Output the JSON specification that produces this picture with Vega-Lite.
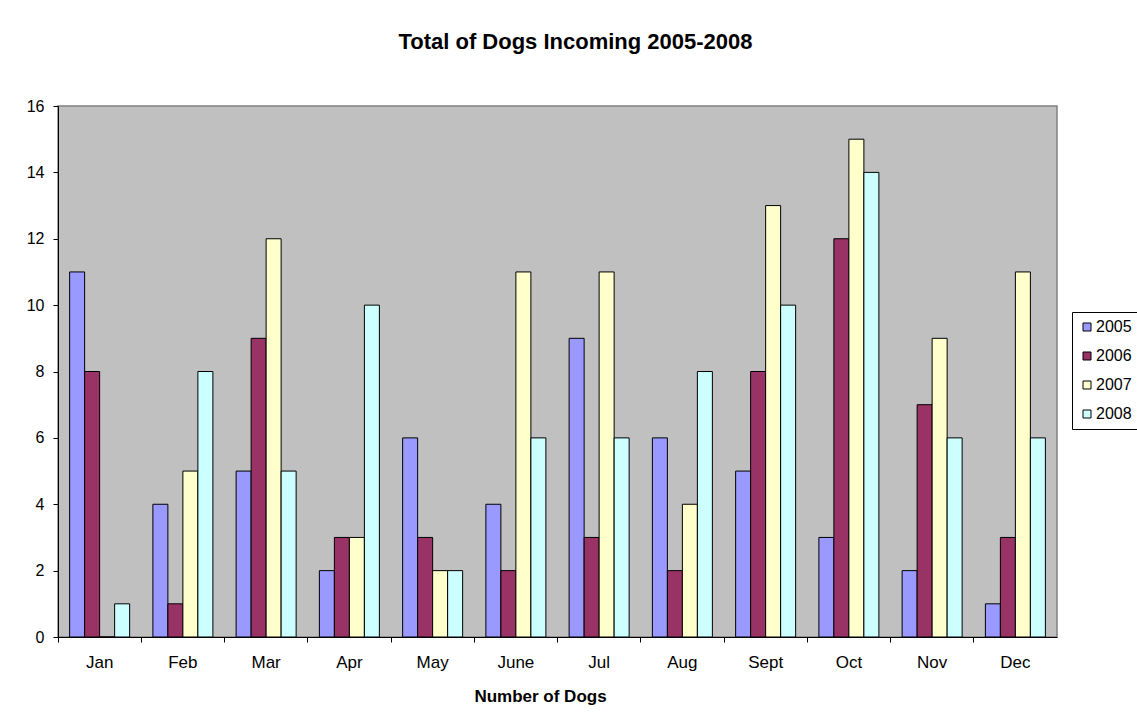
{
  "$schema": "https://vega.github.io/schema/vega-lite/v6.json",
  "autosize": {"type": "none"},
  "padding": {"left": 58, "top": 106, "right": 80, "bottom": 91},
  "width": 999,
  "height": 531,
  "background": "white",
  "title": {
    "text": "Total of Dogs Incoming 2005-2008",
    "font": "Liberation Sans",
    "fontSize": 22,
    "fontWeight": "bold",
    "color": "black",
    "anchor": "middle",
    "dx": 18,
    "offset": 44
  },
  "config": {
    "view": {"fill": "#C0C0C0", "stroke": "#808080", "strokeWidth": 1.5},
    "font": "Liberation Sans"
  },
  "data": {
    "values": [
      {"month": "Jan", "year": "2005", "dogs": 11},
      {"month": "Jan", "year": "2006", "dogs": 8},
      {"month": "Jan", "year": "2007", "dogs": 0},
      {"month": "Jan", "year": "2008", "dogs": 1},
      {"month": "Feb", "year": "2005", "dogs": 4},
      {"month": "Feb", "year": "2006", "dogs": 1},
      {"month": "Feb", "year": "2007", "dogs": 5},
      {"month": "Feb", "year": "2008", "dogs": 8},
      {"month": "Mar", "year": "2005", "dogs": 5},
      {"month": "Mar", "year": "2006", "dogs": 9},
      {"month": "Mar", "year": "2007", "dogs": 12},
      {"month": "Mar", "year": "2008", "dogs": 5},
      {"month": "Apr", "year": "2005", "dogs": 2},
      {"month": "Apr", "year": "2006", "dogs": 3},
      {"month": "Apr", "year": "2007", "dogs": 3},
      {"month": "Apr", "year": "2008", "dogs": 10},
      {"month": "May", "year": "2005", "dogs": 6},
      {"month": "May", "year": "2006", "dogs": 3},
      {"month": "May", "year": "2007", "dogs": 2},
      {"month": "May", "year": "2008", "dogs": 2},
      {"month": "June", "year": "2005", "dogs": 4},
      {"month": "June", "year": "2006", "dogs": 2},
      {"month": "June", "year": "2007", "dogs": 11},
      {"month": "June", "year": "2008", "dogs": 6},
      {"month": "Jul", "year": "2005", "dogs": 9},
      {"month": "Jul", "year": "2006", "dogs": 3},
      {"month": "Jul", "year": "2007", "dogs": 11},
      {"month": "Jul", "year": "2008", "dogs": 6},
      {"month": "Aug", "year": "2005", "dogs": 6},
      {"month": "Aug", "year": "2006", "dogs": 2},
      {"month": "Aug", "year": "2007", "dogs": 4},
      {"month": "Aug", "year": "2008", "dogs": 8},
      {"month": "Sept", "year": "2005", "dogs": 5},
      {"month": "Sept", "year": "2006", "dogs": 8},
      {"month": "Sept", "year": "2007", "dogs": 13},
      {"month": "Sept", "year": "2008", "dogs": 10},
      {"month": "Oct", "year": "2005", "dogs": 3},
      {"month": "Oct", "year": "2006", "dogs": 12},
      {"month": "Oct", "year": "2007", "dogs": 15},
      {"month": "Oct", "year": "2008", "dogs": 14},
      {"month": "Nov", "year": "2005", "dogs": 2},
      {"month": "Nov", "year": "2006", "dogs": 7},
      {"month": "Nov", "year": "2007", "dogs": 9},
      {"month": "Nov", "year": "2008", "dogs": 6},
      {"month": "Dec", "year": "2005", "dogs": 1},
      {"month": "Dec", "year": "2006", "dogs": 3},
      {"month": "Dec", "year": "2007", "dogs": 11},
      {"month": "Dec", "year": "2008", "dogs": 6}
    ]
  },
  "mark": {"type": "bar", "stroke": "black", "strokeWidth": 1},
  "encoding": {
    "x": {
      "field": "month",
      "type": "nominal",
      "sort": ["Jan", "Feb", "Mar", "Apr", "May", "June", "Jul", "Aug", "Sept", "Oct", "Nov", "Dec"],
      "scale": {"paddingInner": 0, "paddingOuter": 0},
      "axis": {
        "title": "Number of Dogs",
        "titleFont": "Liberation Sans",
        "titleFontSize": 17,
        "titleFontWeight": "bold",
        "titleColor": "black",
        "titleX": 482,
        "titlePadding": 18,
        "labelAngle": 0,
        "labelFont": "Liberation Sans",
        "labelFontSize": 17,
        "labelColor": "black",
        "labelPadding": 12,
        "bandPosition": 0,
        "tickColor": "black",
        "tickSize": 5,
        "domainColor": "black",
        "grid": false
      }
    },
    "xOffset": {
      "field": "year",
      "type": "nominal",
      "scale": {"paddingInner": 0, "paddingOuter": 0.775}
    },
    "y": {
      "field": "dogs",
      "type": "quantitative",
      "scale": {"domain": [0, 16], "nice": false},
      "axis": {
        "title": null,
        "values": [0, 2, 4, 6, 8, 10, 12, 14, 16],
        "labelFont": "Liberation Sans",
        "labelFontSize": 16,
        "labelColor": "black",
        "labelPadding": 9,
        "tickColor": "black",
        "tickSize": 5,
        "domainColor": "black",
        "grid": false
      }
    },
    "color": {
      "field": "year",
      "type": "nominal",
      "scale": {"domain": ["2005", "2006", "2007", "2008"], "range": ["#9999FF", "#993366", "#FFFFCC", "#CCFFFF"]},
      "legend": {
        "title": null,
        "orient": "none",
        "legendX": 1014,
        "legendY": 206,
        "symbolType": "square",
        "symbolSize": 64,
        "symbolStrokeColor": "black",
        "symbolStrokeWidth": 1,
        "labelFont": "Liberation Sans",
        "labelFontSize": 16,
        "labelColor": "black",
        "rowPadding": 13,
        "strokeColor": "black",
        "fillColor": "white",
        "padding": 7,
        "labelOffset": 1
      }
    }
  }
}
